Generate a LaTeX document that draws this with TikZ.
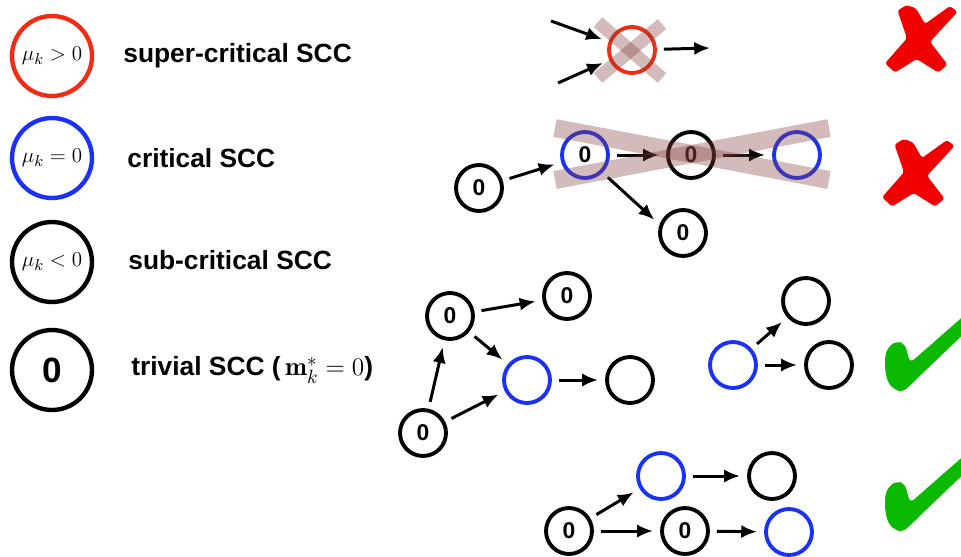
\documentclass[tikz,border=0pt]{standalone}
\usepackage{amsmath}
\usepackage{fontspec}
\newfontfamily\helv{Liberation Sans}
\usetikzlibrary{arrows.meta, positioning}
\definecolor{sccred}{RGB}{240,45,20}
\definecolor{sccblue}{RGB}{25,50,245}
\definecolor{barbrown}{RGB}{130,60,60}
\definecolor{markred}{RGB}{240,0,0}
\definecolor{markgreen}{RGB}{10,185,0}
\tikzset{
  crossmark/.pic={\fill[markred, rounded corners=1.5pt] (12.5,5.5) -- (21.7,0) -- (31,3.3) -- (40,19) -- (65,1) -- (72.5,7) -- (45,36.7) -- (62.5,59.5) -- (53.3,67.5) -- (31.7,54) -- (10,67.5) -- (0,58.3) -- (22,33.3) -- cycle;},
  checkmark/.pic={\fill[markgreen, rounded corners=3pt] (0,35) -- (4,26) -- (12,21) -- (20,24) -- (25,43) -- (90,-14) -- (90,3) -- (18,72) -- (10,70) -- (3,63) -- (0,50) -- cycle;}
}
\begin{document}
\begin{tikzpicture}[x=0.02cm, y=-0.02cm, >={Latex[length=9pt, width=7.5pt]},
  scc/.style={circle, draw, line width=2.2pt, minimum size=0.92cm, inner sep=0pt, font=\helv\bfseries\fontsize{13}{13}\selectfont},
  legend/.style={circle, draw, line width=2.5pt, minimum size=1.6cm, inner sep=0pt, font=\fontsize{13}{13}\selectfont},
  lbl/.style={anchor=west, inner sep=0pt, font=\helv\bfseries\fontsize{15}{15}\selectfont},
  edge/.style={->, line width=1.7pt, shorten >=4pt, shorten <=4pt},
  xbar/.style={line width=0.26cm, draw=barbrown, opacity=0.35}]
\useasboundingbox (0,0) rectangle (961,556);

\node[legend, draw=sccred] (lsup) at (52,56) {$\mu_k > 0$};
\node[legend, draw=sccblue] (lcrit) at (52,158) {$\mu_k = 0$};
\node[legend] (lsub) at (52,262) {$\mu_k < 0$};
\node[legend, font=\helv\bfseries\fontsize{20}{20}\selectfont] (ltriv) at (52,370) {0};
\node[lbl] (tsup) at (123,56) {super-critical SCC};
\node[lbl] (tcrit) at (127,158) {critical SCC};
\node[lbl] (tsub) at (128,260) {sub-critical SCC};
\node[lbl] (ttriv) at (131,370) {trivial SCC (\,$\mathbf{m}_k^* = 0$)};

\node[scc, draw=sccred] (sup) at (632,50) {};
\coordinate (in1) at (551,21);
\coordinate (in2) at (558,83);
\coordinate (out1) at (710,48);
\draw[edge, shorten <=0pt] (in1) -- (sup);
\draw[edge, shorten <=0pt] (in2) -- (sup);
\draw[edge, shorten >=0pt] (sup) -- (out1);
\draw[xbar] (598,22) -- (662,78);
\draw[xbar] (662,24) -- (598,78);

\node[scc] (c0) at (479,188) {0};
\node[scc, draw=sccblue] (c1) at (585,155) {0};
\node[scc] (c2) at (691,155) {0};
\node[scc, draw=sccblue] (c3) at (797,155) {};
\node[scc] (c4) at (683,233) {0};
\draw[edge] (c0) -- (c1);
\draw[edge] (c1) -- (c2);
\draw[edge] (c2) -- (c3);
\draw[edge] (c1.-45) -- (c4.160);
\draw[xbar, line width=0.36cm] (555,128) -- (829,180);
\draw[xbar, line width=0.36cm] (555,180) -- (829,128);

\node[scc] (a0) at (450,316) {0};
\node[scc] (b0) at (567,296) {0};
\node[scc, draw=sccblue] (cb) at (527,380) {};
\node[scc] (d) at (630,380) {};
\node[scc] (e0) at (423,433) {0};
\draw[edge] (a0) -- (b0);
\draw[edge] (a0) -- (cb);
\draw[edge] (e0) -- (a0);
\draw[edge] (e0) -- (cb);
\draw[edge] (cb) -- (d);

\node[scc, draw=sccblue] (f) at (733,365) {};
\node[scc] (g) at (806,301) {};
\node[scc] (h) at (829,365) {};
\draw[edge] (f) -- (g);
\draw[edge] (f) -- (h);

\node[scc, draw=sccblue] (p) at (661,476) {};
\node[scc] (q) at (772,476) {};
\node[scc] (r0) at (569,531) {0};
\node[scc] (s0) at (685,531) {0};
\node[scc, draw=sccblue] (t) at (789,532) {};
\draw[edge] (r0) -- (p);
\draw[edge] (p) -- (q);
\draw[edge] (r0) -- (s0);
\draw[edge] (s0) -- (t);

\pic at (885,5) {crossmark};
\pic at (882,139) {crossmark};
\pic at (885,320) {checkmark};
\pic at (885,460) {checkmark};

\end{tikzpicture}
\end{document}
